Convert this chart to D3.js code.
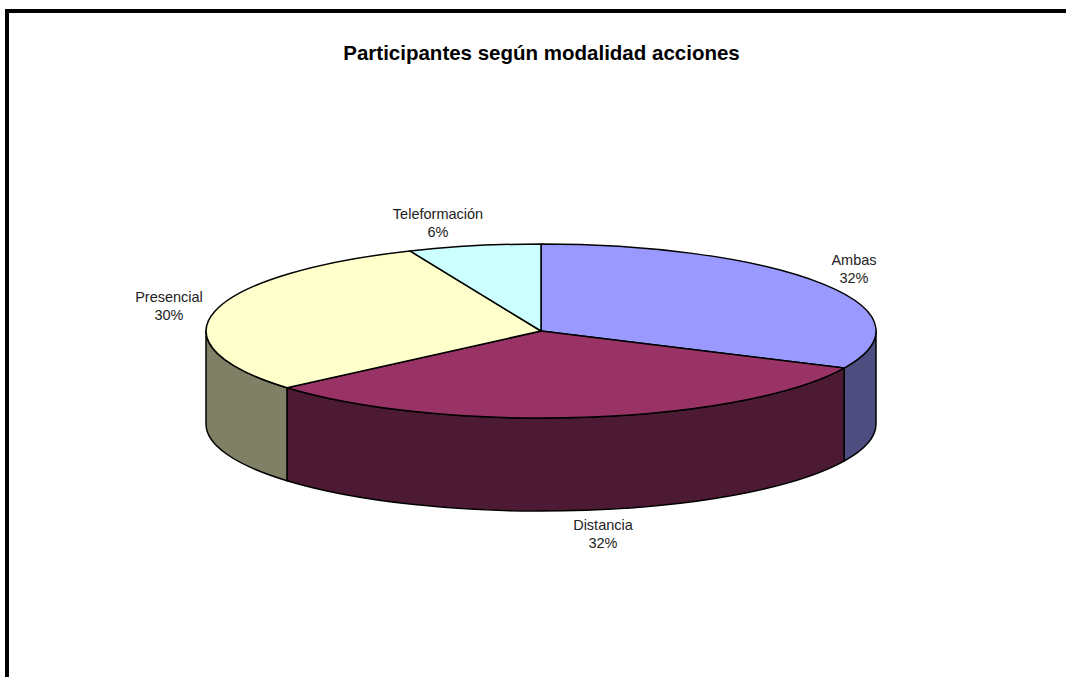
<!DOCTYPE html>
<html>
<head>
<meta charset="utf-8">
<script src="https://cdn.jsdelivr.net/npm/d3@7"></script>
<style>
  html, body { margin: 0; padding: 0; background: #fff; }
  svg { display: block; }
  text { font-family: "Liberation Sans", Arial, sans-serif; }
</style>
</head>
<body>
<div id="chart"></div>
<script>
const categories = ['Ambas', 'Distancia', 'Presencial', 'Teleformación'];
const shares = [32.0, 31.7, 29.9, 6.4];
const chartTitle = 'Participantes según modalidad acciones';

const topColors = ['#9999ff', '#993366', '#ffffcc', '#ccffff'];
const sideColors = ['#4d4d80', '#4d1a33', '#808066', '#668080'];

const width = 1066, height = 677;
const cx = 541, cy = 331, rx = 335, ry = 87, depth = 93;

const svg = d3.select('#chart').append('svg')
    .attr('width', width)
    .attr('height', height)
    .attr('viewBox', `0 0 ${width} ${height}`);

// frame, only top and left show in the picture
svg.append('path')
    .attr('d', `M7,${height} V11 H${width}`)
    .attr('fill', 'none')
    .attr('stroke', '#000')
    .attr('stroke-width', 4);

svg.append('text')
    .attr('x', 541.5)
    .attr('y', 59.5)
    .attr('text-anchor', 'middle')
    .attr('font-size', 20.5)
    .attr('font-weight', 'bold')
    .attr('fill', '#000')
    .text(chartTitle);

const slices = d3.pie().sort(null)(shares);

// angle is clockwise from 12 o'clock, same as d3.pie
const ex = a => cx + rx * Math.sin(a);
const ey = a => cy - ry * Math.cos(a);

// outer wall, only the front half of the ellipse is seen
function wall(a0, a1) {
    const s = Math.max(a0, Math.PI / 2), e = Math.min(a1, Math.PI * 1.5);
    if (e <= s) return null;
    return `M${ex(s)},${ey(s)}`
        + `A${rx},${ry} 0 0 1 ${ex(e)},${ey(e)}`
        + `L${ex(e)},${ey(e) + depth}`
        + `A${rx},${ry} 0 0 0 ${ex(s)},${ey(s) + depth}Z`;
}

svg.append('g').selectAll('path')
    .data(slices.filter(d => wall(d.startAngle, d.endAngle)))
    .join('path')
    .attr('d', d => wall(d.startAngle, d.endAngle))
    .attr('fill', d => sideColors[d.index])
    .attr('stroke', '#000')
    .attr('stroke-width', 1.5)
    .attr('stroke-linejoin', 'round');

const arc = d3.arc().innerRadius(0).outerRadius(1);

svg.append('g')
    .attr('transform', `translate(${cx},${cy}) scale(${rx},${ry})`)
    .selectAll('path')
    .data(slices)
    .join('path')
    .attr('d', arc)
    .attr('fill', d => topColors[d.index])
    .attr('stroke', '#000')
    .attr('stroke-width', 1.5)
    .attr('stroke-linejoin', 'round')
    .attr('vector-effect', 'non-scaling-stroke');

// label anchors sit around the pie, text is centred on them
const labelPos = [[854, 265], [603, 530], [169, 302], [438, 219]];

const labels = svg.append('g').selectAll('text')
    .data(slices)
    .join('text')
    .attr('text-anchor', 'middle')
    .attr('font-size', 14.5)
    .attr('fill', '#222');

labels.append('tspan')
    .attr('x', d => labelPos[d.index][0])
    .attr('y', d => labelPos[d.index][1])
    .text(d => categories[d.index]);

labels.append('tspan')
    .attr('x', d => labelPos[d.index][0])
    .attr('y', d => labelPos[d.index][1] + 18)
    .text(d => d3.format('.0f')(d.data) + '%');
</script>
</body>
</html>
